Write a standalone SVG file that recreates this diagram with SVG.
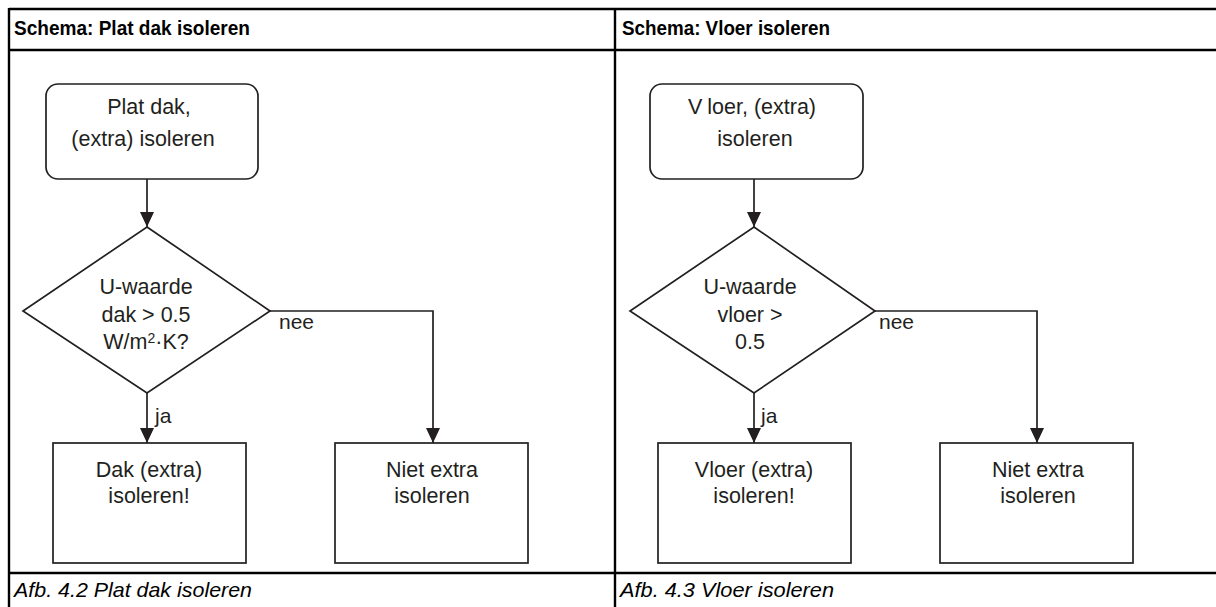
<svg xmlns="http://www.w3.org/2000/svg" width="1216" height="607" viewBox="0 0 1216 607">
<defs>
<marker id="ah" viewBox="0 0 15 14" refX="15" refY="7" markerWidth="15" markerHeight="14" markerUnits="userSpaceOnUse" orient="auto">
<path d="M0,0 L15,7 L0,14 z" fill="#231f20"/>
</marker>
<style>
.tbl{stroke:#000;stroke-width:2.4;fill:none}
.shape{fill:#fff;stroke:#231f20;stroke-width:1.7}
.conn{fill:none;stroke:#231f20;stroke-width:1.7}
.t{font-family:"Liberation Sans",Arial,sans-serif;font-size:21.5px;fill:#231f20;text-anchor:middle}
.lbl{font-family:"Liberation Sans",Arial,sans-serif;font-size:21px;fill:#231f20}
.hd{font-family:"Liberation Sans",Arial,sans-serif;font-size:21px;font-weight:bold;fill:#000}
.ft{font-family:"Liberation Sans",Arial,sans-serif;font-size:21px;font-style:italic;fill:#000}
</style>
</defs>
<rect width="1216" height="607" fill="#fff"/>
<g id="table">
<line class="tbl" x1="9" y1="9" x2="1216" y2="9"/>
<line class="tbl" x1="9" y1="50" x2="1216" y2="50"/>
<line class="tbl" x1="9" y1="573" x2="1216" y2="573" stroke-width="2.8"/>
<line class="tbl" x1="9" y1="8" x2="9" y2="607"/>
<line class="tbl" x1="615" y1="8" x2="615" y2="607"/>
<text class="hd" x="14" y="35" textLength="236" lengthAdjust="spacingAndGlyphs">Schema: Plat dak isoleren</text>
<text class="hd" x="622" y="35" textLength="208" lengthAdjust="spacingAndGlyphs">Schema: Vloer isoleren</text>
<text class="ft" x="14" y="597" textLength="238" lengthAdjust="spacingAndGlyphs">Afb. 4.2 Plat dak isoleren</text>
<text class="ft" x="620" y="597" textLength="214" lengthAdjust="spacingAndGlyphs">Afb. 4.3 Vloer isoleren</text>
</g>
<g id="connectors">
<line class="conn" x1="147" y1="179" x2="147" y2="227" marker-end="url(#ah)"/>
<line class="conn" x1="147" y1="393" x2="147" y2="443" marker-end="url(#ah)"/>
<polyline class="conn" points="270,311 433,311 433,443" marker-end="url(#ah)"/>
<text class="lbl" x="155" y="423">ja</text>
<text class="lbl" x="279" y="329">nee</text>
<line class="conn" x1="754" y1="179" x2="754" y2="227" marker-end="url(#ah)"/>
<line class="conn" x1="754" y1="393" x2="754" y2="443" marker-end="url(#ah)"/>
<polyline class="conn" points="875,311 1037,311 1037,443" marker-end="url(#ah)"/>
<text class="lbl" x="761" y="423">ja</text>
<text class="lbl" x="879" y="329">nee</text>
</g>
<g id="start-dak">
<rect class="shape" x="46" y="84" width="212" height="95" rx="12"/>
<text class="t" x="149" y="114">Plat dak,</text>
<text class="t" x="143" y="146">(extra) isoleren</text>
</g>
<g id="decision-dak">
<polygon class="shape" points="147,227 270,311 147,393 23,311"/>
<text class="t" x="146" y="294">U-waarde</text>
<text class="t" x="146" y="322">dak &gt; 0.5</text>
<text class="t" x="146" y="349">W/m<tspan font-size="14" dy="-6">2</tspan><tspan dy="6">·K?</tspan></text>
</g>
<g id="result-dak-ja">
<rect class="shape" x="53" y="443" width="193" height="120"/>
<text class="t" x="149" y="477">Dak (extra)</text>
<text class="t" x="149" y="503">isoleren!</text>
</g>
<g id="result-dak-nee">
<rect class="shape" x="335" y="443" width="193" height="120"/>
<text class="t" x="432" y="477">Niet extra</text>
<text class="t" x="432" y="503">isoleren</text>
</g>
<g id="start-vloer">
<rect class="shape" x="650" y="84" width="213" height="95" rx="12"/>
<text class="t" x="752" y="114">V<tspan dx="5">loer, (extra)</tspan></text>
<text class="t" x="755" y="146">isoleren</text>
</g>
<g id="decision-vloer">
<polygon class="shape" points="754,227 875,311 754,393 630,311"/>
<text class="t" x="750" y="294">U-waarde</text>
<text class="t" x="750" y="322">vloer &gt;</text>
<text class="t" x="750" y="349">0.5</text>
</g>
<g id="result-vloer-ja">
<rect class="shape" x="658" y="443" width="193" height="120"/>
<text class="t" x="754" y="477">Vloer (extra)</text>
<text class="t" x="754" y="503">isoleren!</text>
</g>
<g id="result-vloer-nee">
<rect class="shape" x="940" y="443" width="193" height="120"/>
<text class="t" x="1038" y="477">Niet extra</text>
<text class="t" x="1038" y="503">isoleren</text>
</g>
</svg>
